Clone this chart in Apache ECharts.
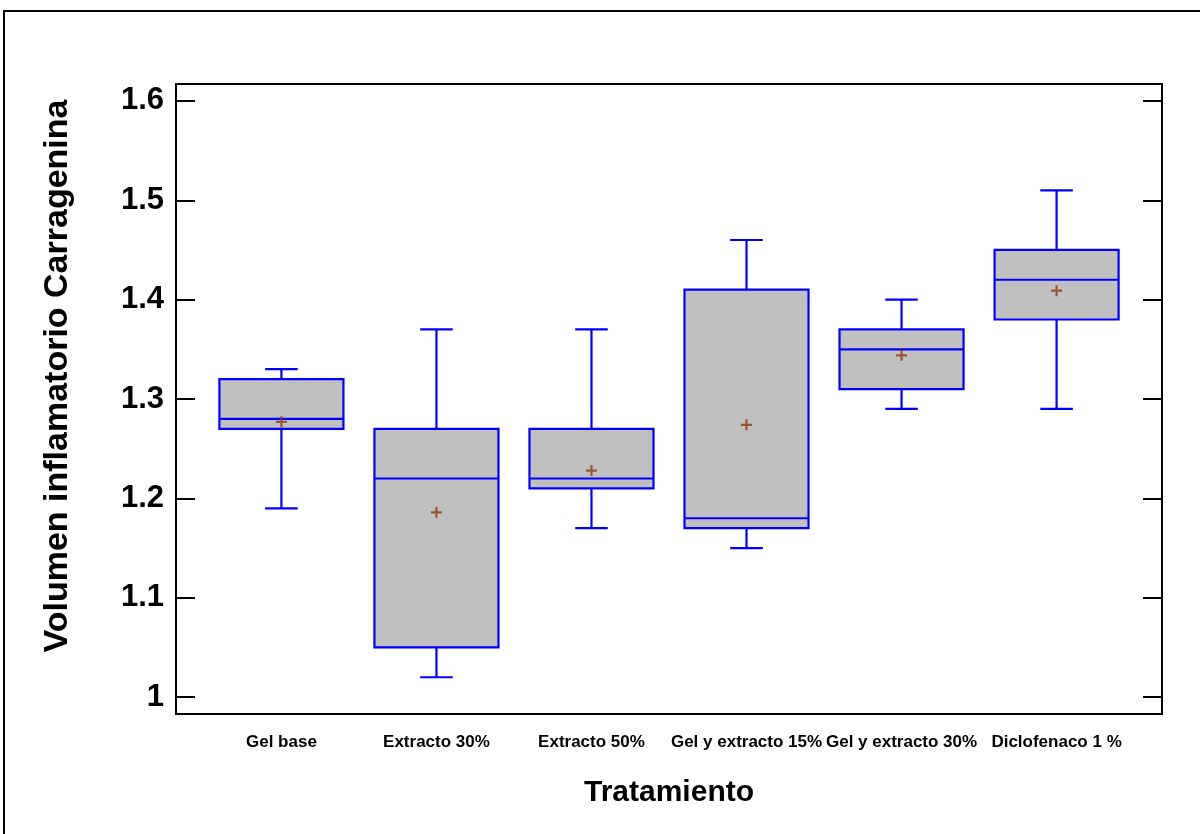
<!DOCTYPE html>
<html>
<head>
<meta charset="utf-8">
<title>Volumen inflamatorio Carragenina por tratamiento</title>
<script src="https://cdn.jsdelivr.net/npm/echarts@6/dist/echarts.min.js"></script>
<style>
  html, body { margin: 0; padding: 0; background: #ffffff; }
  #chart { width: 1200px; height: 834px; }
</style>
</head>
<body>
<div id="chart"></div>
<script>
// Treatments along the horizontal axis
const categories = ['Gel base', 'Extracto 30%', 'Extracto 50%', 'Gel y extracto 15%', 'Gel y extracto 30%', 'Diclofenaco 1 %'];

// Five-number summary per treatment
const minimo  = [1.19, 1.02, 1.17, 1.15, 1.29, 1.29];
const q1      = [1.27, 1.05, 1.21, 1.17, 1.31, 1.38];
const mediana = [1.28, 1.22, 1.22, 1.18, 1.35, 1.42];
const q3      = [1.32, 1.27, 1.27, 1.41, 1.37, 1.45];
const maximo  = [1.33, 1.37, 1.37, 1.46, 1.40, 1.51];

// Mean of each group (drawn as a small cross)
const media   = [1.277, 1.186, 1.228, 1.274, 1.344, 1.409];

const BLUE = '#0000ff';
const BOX_FILL = '#c0c0c0';
const MEAN_COLOR = '#953a0a';
const BOX_W = 0.8;   // box width in category units
const CAP_W = 0.21;  // whisker cap width in category units

const boxData = categories.map((c, i) => [i + 1, minimo[i], q1[i], mediana[i], q3[i], maximo[i]]);
const meanData = categories.map((c, i) => [i + 1, media[i]]);

function renderBox(params, api) {
  const x = api.value(0);
  const pMin = api.coord([x, api.value(1)]);
  const pQ1 = api.coord([x, api.value(2)]);
  const pMed = api.coord([x, api.value(3)]);
  const pQ3 = api.coord([x, api.value(4)]);
  const pMax = api.coord([x, api.value(5)]);
  const cx = pMed[0];
  const half = api.size([BOX_W, 0])[0] / 2;
  const capHalf = api.size([CAP_W, 0])[0] / 2;
  const line = { stroke: BLUE, lineWidth: 2.2 };
  return {
    type: 'group',
    children: [
      { type: 'line', shape: { x1: cx, y1: pMax[1], x2: cx, y2: pQ3[1] }, style: line },
      { type: 'line', shape: { x1: cx, y1: pQ1[1], x2: cx, y2: pMin[1] }, style: line },
      { type: 'line', shape: { x1: cx - capHalf, y1: pMax[1], x2: cx + capHalf, y2: pMax[1] }, style: line },
      { type: 'line', shape: { x1: cx - capHalf, y1: pMin[1], x2: cx + capHalf, y2: pMin[1] }, style: line },
      { type: 'rect', shape: { x: cx - half, y: pQ3[1], width: half * 2, height: pQ1[1] - pQ3[1] },
        style: { fill: BOX_FILL, stroke: BLUE, lineWidth: 2.2 } },
      { type: 'line', shape: { x1: cx - half, y1: pMed[1], x2: cx + half, y2: pMed[1] }, style: line }
    ]
  };
}

function isTenth(v) {
  return Math.abs(v * 10 - Math.round(v * 10)) < 1e-6;
}

const chart = echarts.init(document.getElementById('chart'), null, { renderer: 'canvas' });

chart.setOption({
  animation: false,
  backgroundColor: '#ffffff',
  graphic: [{
    type: 'rect',
    shape: { x: 4, y: 11, width: 1220, height: 850 },
    style: { fill: 'none', stroke: '#000000', lineWidth: 2 },
    silent: true
  }],
  grid: {
    left: 176, right: 38, top: 84, bottom: 120,
    show: true, borderColor: '#000000', borderWidth: 2, backgroundColor: 'transparent'
  },
  xAxis: {
    type: 'value',
    min: 0.32,
    max: 6.68,
    axisLine: { show: false },
    axisTick: { show: false },
    splitLine: { show: false },
    axisLabel: {
      margin: 20,
      color: '#000000',
      fontFamily: '"Liberation Sans Narrow", "Liberation Sans", Arial, sans-serif',
      fontWeight: 'bold',
      fontSize: 17,
      formatter: v => (Math.abs(v - Math.round(v)) < 1e-6 && v >= 1 && v <= categories.length) ? categories[Math.round(v) - 1] : ''
    },
    name: 'Tratamiento',
    nameLocation: 'middle',
    nameGap: 64,
    nameTextStyle: {
      color: '#000000',
      fontFamily: '"Liberation Sans Narrow", "Liberation Sans", Arial, sans-serif',
      fontWeight: 'bold',
      fontSize: 30
    }
  },
  yAxis: [{
    type: 'value',
    position: 'left',
    min: 0.983,
    max: 1.617,
    axisLine: { show: false },
    axisTick: { show: true, inside: true, length: 19, lineStyle: { color: '#000000', width: 2 } },
    splitLine: { show: false },
    axisLabel: {
      margin: 12,
      color: '#000000',
      fontFamily: '"Liberation Sans", Arial, sans-serif',
      fontWeight: 'bold',
      fontSize: 31,
      formatter: v => isTenth(v) ? String(+v.toFixed(1)) : ''
    },
    name: 'Volumen inflamatorio Carragenina',
    nameLocation: 'middle',
    nameRotate: 90,
    nameGap: 101,
    nameTextStyle: {
      color: '#000000',
      fontFamily: '"Liberation Sans", Arial, sans-serif',
      fontWeight: 'bold',
      fontSize: 34,
      padding: [0, 0, 0, 46]
    }
  }, {
    type: 'value',
    position: 'right',
    min: 0.983,
    max: 1.617,
    axisLine: { show: false },
    axisTick: { show: true, inside: true, length: 19, lineStyle: { color: '#000000', width: 2 } },
    splitLine: { show: false },
    axisLabel: { show: false }
  }],
  series: [{
    type: 'custom',
    name: 'Caja',
    renderItem: renderBox,
    encode: { x: 0, y: [1, 2, 3, 4, 5] },
    data: boxData,
    z: 2
  }, {
    type: 'scatter',
    name: 'Media',
    data: meanData,
    symbol: 'path://M4,0 L6,0 L6,4 L10,4 L10,6 L6,6 L6,10 L4,10 L4,6 L0,6 L0,4 L4,4 Z',
    symbolSize: 11,
    itemStyle: { color: MEAN_COLOR },
    z: 3
  }]
});
</script>
</body>
</html>
